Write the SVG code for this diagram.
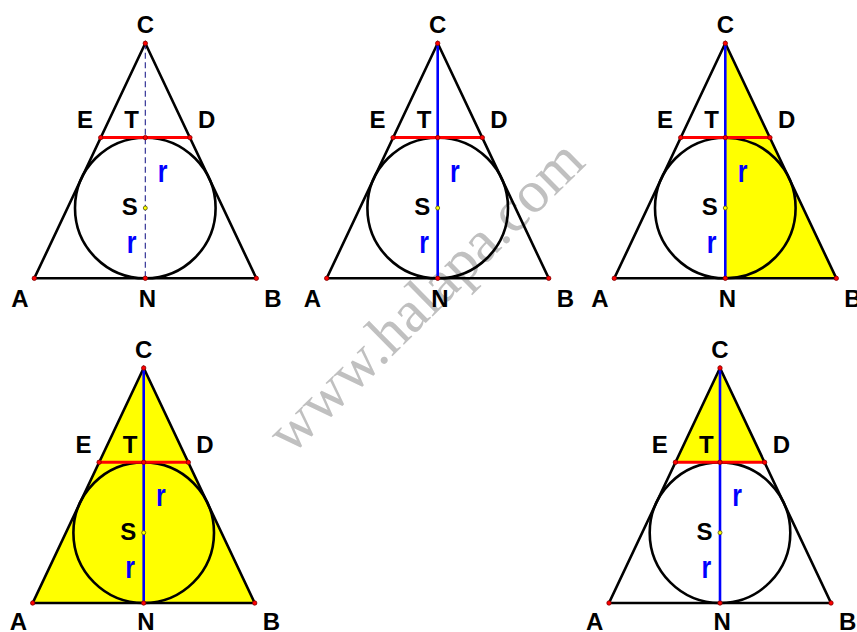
<svg xmlns="http://www.w3.org/2000/svg" width="857" height="632" viewBox="0 0 857 632">
<style>
.bg{fill:#ffffff}
.wm{font-family:"Liberation Serif","Times New Roman",serif;font-size:60px;fill:#c0c0c0}
.fill{fill:#ffff00;stroke:none}
.tri{fill:none;stroke:#000;stroke-width:2.6;stroke-linejoin:miter}
.circ{fill:none;stroke:#000;stroke-width:2.6}
.ed{stroke:#ff0000;stroke-width:3}
.med{stroke:#0000ff;stroke-width:2.6}
.dash{stroke:#22228c;stroke-width:1.1;stroke-dasharray:6,3.5}
.pt{fill:#ff0000;stroke:#800000;stroke-width:0.8}
.ps{fill:#ffff00;stroke:#555500;stroke-width:0.8}
.lb{font-family:"Liberation Sans",Arial,sans-serif;font-weight:bold;font-size:24px;fill:#000;text-anchor:middle}
.r{font-family:"Liberation Sans",Arial,sans-serif;font-weight:bold;font-size:32px;fill:#0000ff;text-anchor:middle}
</style>
<rect class="bg" x="0" y="0" width="857" height="632"/>
<text class="wm" transform="translate(291,456) rotate(-44.6)">www.halapa.com</text>

<g id="panel1" transform="translate(145.3,43.3)">
<polygon class="tri" points="0,0 -111,235 111,235"/>
<circle class="circ" cx="0" cy="164.7" r="70.3"/>
<line class="ed" x1="-44.6" y1="94.3" x2="44.6" y2="94.3"/>
<line class="dash" x1="0" y1="0" x2="0" y2="235"/>
<circle class="pt" cx="0" cy="0" r="2.2"/><circle class="pt" cx="-111" cy="235" r="2.2"/><circle class="pt" cx="111" cy="235" r="2.2"/><circle class="pt" cx="0" cy="235" r="2.2"/><circle class="pt" cx="-44.6" cy="94.3" r="2.2"/><circle class="pt" cx="44.6" cy="94.3" r="2.2"/><circle class="pt" cx="0" cy="94.3" r="2.2"/><circle class="ps" cx="0" cy="164.7" r="2"/>
<text class="lb" x="0" y="-10.5">C</text><text class="lb" x="-60.3" y="84.5">E</text><text class="lb" x="-13.7" y="84.5">T</text><text class="lb" x="61.3" y="84.5">D</text><text class="lb" x="-15.5" y="172">S</text><text class="lb" x="-125.3" y="263.3">A</text><text class="lb" x="2.2" y="263.3">N</text><text class="lb" x="127.7" y="263.3">B</text>
<text class="r" transform="translate(17.2,138.4) scale(0.78,1)">r</text><text class="r" transform="translate(-13.6,210) scale(0.78,1)">r</text>
</g>

<g id="panel2" transform="translate(437.7,43.3)">
<polygon class="tri" points="0,0 -111,235 111,235"/>
<circle class="circ" cx="0" cy="164.7" r="70.3"/>
<line class="ed" x1="-44.6" y1="94.3" x2="44.6" y2="94.3"/>
<line class="med" x1="0" y1="0" x2="0" y2="235"/>
<circle class="pt" cx="0" cy="0" r="2.2"/><circle class="pt" cx="-111" cy="235" r="2.2"/><circle class="pt" cx="111" cy="235" r="2.2"/><circle class="pt" cx="0" cy="235" r="2.2"/><circle class="pt" cx="-44.6" cy="94.3" r="2.2"/><circle class="pt" cx="44.6" cy="94.3" r="2.2"/><circle class="pt" cx="0" cy="94.3" r="2.2"/><circle class="ps" cx="0" cy="164.7" r="2"/>
<text class="lb" x="0" y="-10.5">C</text><text class="lb" x="-60.3" y="84.5">E</text><text class="lb" x="-13.7" y="84.5">T</text><text class="lb" x="61.3" y="84.5">D</text><text class="lb" x="-15.5" y="172">S</text><text class="lb" x="-125.3" y="263.3">A</text><text class="lb" x="2.2" y="263.3">N</text><text class="lb" x="127.7" y="263.3">B</text>
<text class="r" transform="translate(17.2,138.4) scale(0.78,1)">r</text><text class="r" transform="translate(-13.6,210) scale(0.78,1)">r</text>
</g>

<g id="panel3" transform="translate(725.3,43.3)">
<polygon class="fill" points="0,0 0,235 111,235"/>
<polygon class="tri" points="0,0 -111,235 111,235"/>
<circle class="circ" cx="0" cy="164.7" r="70.3"/>
<line class="ed" x1="-44.6" y1="94.3" x2="44.6" y2="94.3"/>
<line class="med" x1="0" y1="0" x2="0" y2="235"/>
<circle class="pt" cx="0" cy="0" r="2.2"/><circle class="pt" cx="-111" cy="235" r="2.2"/><circle class="pt" cx="111" cy="235" r="2.2"/><circle class="pt" cx="0" cy="235" r="2.2"/><circle class="pt" cx="-44.6" cy="94.3" r="2.2"/><circle class="pt" cx="44.6" cy="94.3" r="2.2"/><circle class="pt" cx="0" cy="94.3" r="2.2"/><circle class="ps" cx="0" cy="164.7" r="2"/>
<text class="lb" x="0" y="-10.5">C</text><text class="lb" x="-60.3" y="84.5">E</text><text class="lb" x="-13.7" y="84.5">T</text><text class="lb" x="61.3" y="84.5">D</text><text class="lb" x="-15.5" y="172">S</text><text class="lb" x="-125.3" y="263.3">A</text><text class="lb" x="2.2" y="263.3">N</text><text class="lb" x="127.7" y="263.3">B</text>
<text class="r" transform="translate(17.2,138.4) scale(0.78,1)">r</text><text class="r" transform="translate(-13.6,210) scale(0.78,1)">r</text>
</g>

<g id="panel4" transform="translate(143.7,368)">
<polygon class="fill" points="0,0 -111,235 111,235"/>
<polygon class="tri" points="0,0 -111,235 111,235"/>
<circle class="circ" cx="0" cy="164.7" r="70.3"/>
<line class="ed" x1="-44.6" y1="94.3" x2="44.6" y2="94.3"/>
<line class="med" x1="0" y1="0" x2="0" y2="235"/>
<circle class="pt" cx="0" cy="0" r="2.2"/><circle class="pt" cx="-111" cy="235" r="2.2"/><circle class="pt" cx="111" cy="235" r="2.2"/><circle class="pt" cx="0" cy="235" r="2.2"/><circle class="pt" cx="-44.6" cy="94.3" r="2.2"/><circle class="pt" cx="44.6" cy="94.3" r="2.2"/><circle class="pt" cx="0" cy="94.3" r="2.2"/><circle class="ps" cx="0" cy="164.7" r="2"/>
<text class="lb" x="0" y="-10.5">C</text><text class="lb" x="-60.3" y="84.5">E</text><text class="lb" x="-13.7" y="84.5">T</text><text class="lb" x="61.3" y="84.5">D</text><text class="lb" x="-15.5" y="172">S</text><text class="lb" x="-125.3" y="262">A</text><text class="lb" x="2.2" y="262">N</text><text class="lb" x="127.7" y="262">B</text>
<text class="r" transform="translate(17.2,138.4) scale(0.78,1)">r</text><text class="r" transform="translate(-13.6,210) scale(0.78,1)">r</text>
</g>

<g id="panel5" transform="translate(720,368)">
<polygon class="fill" points="0,0 -44.6,94.3 44.6,94.3"/>
<polygon class="tri" points="0,0 -111,235 111,235"/>
<circle class="circ" cx="0" cy="164.7" r="70.3"/>
<line class="ed" x1="-44.6" y1="94.3" x2="44.6" y2="94.3"/>
<line class="med" x1="0" y1="0" x2="0" y2="235"/>
<circle class="pt" cx="0" cy="0" r="2.2"/><circle class="pt" cx="-111" cy="235" r="2.2"/><circle class="pt" cx="111" cy="235" r="2.2"/><circle class="pt" cx="0" cy="235" r="2.2"/><circle class="pt" cx="-44.6" cy="94.3" r="2.2"/><circle class="pt" cx="44.6" cy="94.3" r="2.2"/><circle class="pt" cx="0" cy="94.3" r="2.2"/><circle class="ps" cx="0" cy="164.7" r="2"/>
<text class="lb" x="0" y="-10.5">C</text><text class="lb" x="-60.3" y="84.5">E</text><text class="lb" x="-13.7" y="84.5">T</text><text class="lb" x="61.3" y="84.5">D</text><text class="lb" x="-15.5" y="172">S</text><text class="lb" x="-125.3" y="262">A</text><text class="lb" x="2.2" y="262">N</text><text class="lb" x="127.7" y="262">B</text>
<text class="r" transform="translate(17.2,138.4) scale(0.78,1)">r</text><text class="r" transform="translate(-13.6,210) scale(0.78,1)">r</text>
</g>
</svg>
